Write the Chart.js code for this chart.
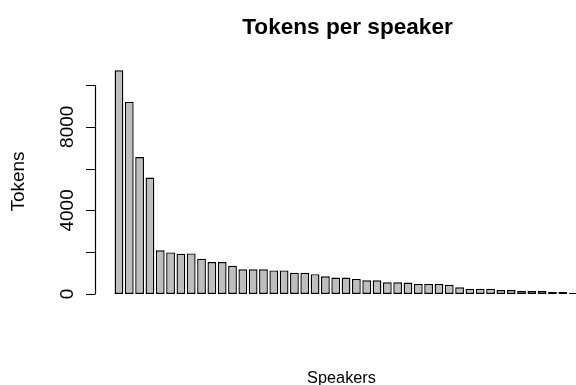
<!DOCTYPE html>
<html>
<head>
<meta charset="utf-8">
<script src="https://cdn.jsdelivr.net/npm/chart.js"></script>
<style>
    html, body { margin: 0; padding: 0; overflow: hidden; background: #fff; }
    canvas { display: block; }
</style>
</head>
<body>
<canvas id="tokenChart" width="580" height="385" style="width:580px;height:385px"></canvas>

<script>
    // speakers sorted by token count (no names shown on the axis)
    const speakers = [1, 2, 3, 4, 5, 6, 7, 8, 9, 10, 11, 12, 13, 14, 15,
                      16, 17, 18, 19, 20, 21, 22, 23, 24, 25, 26, 27, 28, 29, 30,
                      31, 32, 33, 34, 35, 36, 37, 38, 39, 40, 41, 42, 43, 44, 45];
    const tokens = [10700, 9200, 6550, 5570, 2090, 1990, 1930, 1940, 1690, 1530,
                    1530, 1350, 1180, 1180, 1180, 1130, 1130, 1020, 1020, 950,
                    845, 790, 790, 720, 655, 655, 560, 560, 550, 480,
                    480, 480, 445, 320, 255, 255, 255, 190, 190, 145,
                    145, 145, 95, 95, 50];
    const yTicks = [0, 2000, 4000, 6000, 8000, 10000];
    const yTickLabels = [0, 4000, 8000];

    const font = "'Liberation Sans', Arial, Helvetica, sans-serif";

    // base-graphics style axis + titles
    const rStyle = {
        id: 'rStyle',
        afterDraw(chart) {
            const ctx = chart.ctx;
            const y = chart.scales.y;
            const axisX = 95.5;
            ctx.save();
            ctx.strokeStyle = '#000';
            ctx.lineWidth = 1.2;
            ctx.beginPath();
            ctx.moveTo(axisX, y.getPixelForValue(yTicks[0]));
            ctx.lineTo(axisX, y.getPixelForValue(yTicks[yTicks.length - 1]));
            yTicks.forEach(v => {
                const py = Math.round(y.getPixelForValue(v)) + 0.5;
                ctx.moveTo(axisX, py);
                ctx.lineTo(86, py);
            });
            ctx.stroke();

            ctx.fillStyle = '#000';
            ctx.font = '19px ' + font;
            ctx.textAlign = 'center';
            ctx.textBaseline = 'alphabetic';
            yTickLabels.forEach(v => {
                ctx.save();
                ctx.translate(72.5, y.getPixelForValue(v));
                ctx.rotate(-Math.PI / 2);
                ctx.fillText(String(v), 0, 0);
                ctx.restore();
            });

            ctx.save();
            ctx.translate(24.3, 181.5);
            ctx.rotate(-Math.PI / 2);
            ctx.fillText('Tokens', 0, 0);
            ctx.restore();

            ctx.font = '16.3px ' + font;
            ctx.fillText('Speakers', 341.5, 382.8);

            ctx.font = 'bold 22.6px ' + font;
            ctx.fillText('Tokens per speaker', 347.5, 34.3);
            ctx.restore();
        }
    };

    const tokenCtx = document.getElementById('tokenChart');
    new Chart(tokenCtx, {
        type: 'bar',
        data: {
            labels: speakers,
            datasets: [{
                label: 'Tokens',
                data: tokens,
                backgroundColor: '#bebebe',
                borderColor: '#000',
                borderWidth: 1.4,
                borderSkipped: false,
                barPercentage: 0.85,
                categoryPercentage: 1
            }]
        },
        options: {
            responsive: false,
            animation: false,
            devicePixelRatio: 1,
            layout: {
                padding: { left: 113.8, right: 1.7, top: 64.1, bottom: 91 }
            },
            scales: {
                x: { display: false, offset: true, grid: { display: false } },
                y: { display: false, min: 0, max: 11000, grid: { display: false } }
            },
            plugins: {
                legend: { display: false },
                tooltip: { enabled: false }
            }
        },
        plugins: [rStyle]
    });
</script>
</body>
</html>
